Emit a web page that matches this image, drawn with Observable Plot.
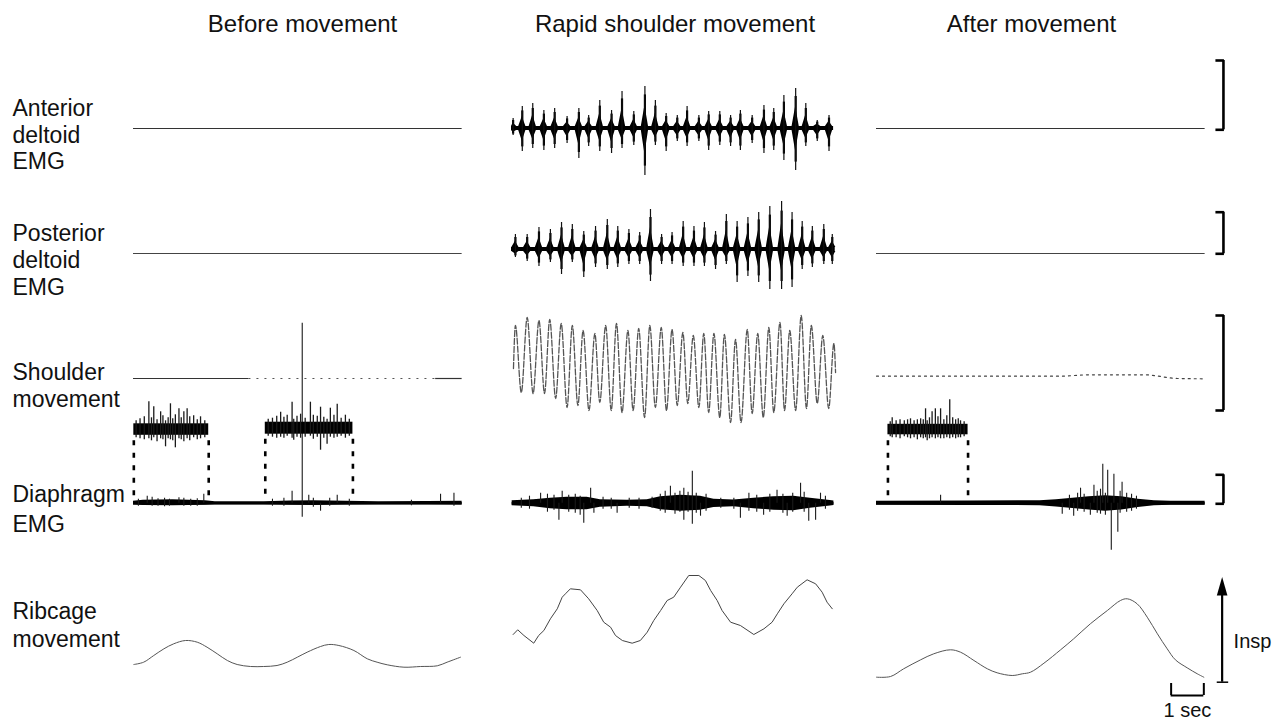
<!DOCTYPE html>
<html><head><meta charset="utf-8">
<script src="https://cdn.jsdelivr.net/npm/d3@7"></script>
<script src="https://cdn.jsdelivr.net/npm/@observablehq/plot@0.6"></script>
<style>html,body{margin:0;padding:0;background:#fff}svg{display:block}</style>
</head><body><div id="chart"></div>
<script>
// ---------------- DATA (time in s within each panel; amplitudes in trace units) ----------------
const panelTitles = ["Before movement", "Rapid shoulder movement", "After movement"];
const labelLines = ["Anterior","deltoid","EMG","Posterior","deltoid","EMG","Shoulder","movement","Diaphragm","EMG","Ribcage","movement"];

// Rapid movement – anterior deltoid EMG bursts
const antT  = [0.05,0.33,0.65,0.99,1.32,1.70,2.06,2.36,2.70,3.06,3.38,3.74,4.08,4.40,4.73,5.07,5.37,5.73,6.03,6.37,6.70,7.00,7.36,7.72,8.02,8.33,8.69,9.00,9.35,9.71];
const antUp = [1.0,2.2,2.5,1.8,2.0,1.2,2.0,1.3,2.8,1.8,3.7,1.7,4.2,2.8,1.5,1.3,2.2,1.3,1.7,1.7,1.3,1.8,1.3,2.3,2.0,3.3,4.0,2.5,0.8,1.3];
const antDn = [0.7,2.3,2.0,2.2,2.0,1.5,3.0,1.8,2.3,2.5,2.0,1.7,4.7,1.7,2.3,1.3,1.8,1.3,2.2,1.7,1.8,2.2,1.5,2.5,2.2,3.2,4.2,1.8,1.3,2.3];

// Rapid movement – posterior deltoid EMG bursts
const postT  = [0.12,0.48,0.84,1.19,1.53,1.86,2.21,2.57,2.93,3.25,3.59,3.92,4.25,4.59,4.91,5.25,5.58,5.90,6.24,6.57,6.90,7.23,7.56,7.90,8.26,8.58,8.89,9.20,9.55,9.81];
const postUp = [1.5,1.5,2.2,2.0,2.7,2.5,1.8,2.3,3.0,2.3,2.0,1.7,4.0,1.5,1.7,2.8,2.3,2.7,1.8,3.5,2.8,3.2,3.7,4.3,4.8,3.7,2.8,2.3,2.5,1.5];
const postDn = [0.8,1.2,1.7,1.3,2.5,1.3,2.8,1.8,2.0,1.8,1.5,1.5,3.2,1.5,1.5,1.7,1.7,1.7,2.0,1.5,3.3,2.7,3.3,4.0,4.0,3.8,2.0,1.8,1.5,1.5];

// Rapid movement – shoulder position (peaks and troughs)
const shT = [0.06,0.12,0.30,0.48,0.66,0.84,1.01,1.17,1.35,1.52,1.70,1.86,2.03,2.19,2.37,2.55,2.70,2.88,3.05,3.21,3.38,3.56,3.72,3.89,4.07,4.23,4.40,4.58,4.74,4.91,5.07,5.24,5.39,5.56,5.73,5.88,6.03,6.19,6.37,6.51,6.70,6.85,7.02,7.21,7.36,7.53,7.70,7.87,8.02,8.21,8.35,8.51,8.69,8.86,9.02,9.17,9.35,9.52,9.70,9.86,9.91];
const shV = [1.0,5.3,-1.4,6.1,-1.5,5.8,-1.5,5.9,-2.0,5.5,-2.9,5.3,-2.7,4.8,-3.2,4.5,-2.4,5.3,-3.2,5.5,-3.4,4.8,-3.2,5.0,-3.9,5.3,-2.9,5.1,-3.2,4.9,-2.7,4.6,-2.5,4.3,-2.9,4.5,-3.4,4.5,-3.9,4.4,-4.4,3.9,-4.4,4.9,-3.5,4.5,-3.9,5.1,-3.4,5.6,-3.2,4.8,-3.2,6.3,-3.0,5.3,-2.5,4.3,-3.0,3.5,0.6];

// After movement – shoulder position
const shAftT = [0, 5.6, 6.5, 8.2, 9.2, 10.05];
const shAftV = [0.23, 0.23, 0.37, 0.37, 0.0, -0.03];
// Before movement – shoulder, solid stretches (rest dotted)
const shBefSolidFrom = [0, 9.24];
const shBefSolidTo   = [3.53, 10.05];

// Diaphragm EMG envelopes and spikes
const diaBefT  = [0,0.3,1.2,2.2,2.5,4.0,4.8,5.5,6.5,7.5,9.0,10.05];
const diaBefUp = [0.2,0.3,0.35,0.25,0.15,0.15,0.22,0.25,0.2,0.15,0.18,0.2];
const diaBefDn = [0.18,0.22,0.25,0.2,0.15,0.15,0.2,0.22,0.18,0.15,0.16,0.18];
const diaBefSpT  = [0.15,0.42,0.57,0.75,0.95,1.10,1.39,1.54,1.75,1.95,2.15,4.25,4.60,4.85,5.16,5.36,5.50,5.72,6.00,6.23,6.60,8.50,9.39,9.80];
const diaBefSpUp = [0.4,0.7,0.6,0.45,0.5,0.4,0.55,0.5,0.4,0.45,0.9,0.4,0.5,1.2,18.0,0.8,0.5,0,0.5,0.8,0.4,0.3,0.9,1.0];
const diaBefSpDn = [0.3,0,0.3,0.3,0.35,0.3,0,0.3,0.3,0.3,0,0.3,0.3,0,1.4,0,0.4,0.8,0.3,0,0.3,0.25,0,0.3];

const diaRapT  = [0.02,0.68,1.19,1.70,2.31,2.72,3.54,4.15,4.56,5.17,5.78,6.19,6.80,7.41,8.02,8.63,9.14,9.75,9.86];
const diaRapUp = [0.25,0.35,0.5,0.6,0.6,0.35,0.3,0.35,0.65,0.8,0.7,0.4,0.33,0.5,0.65,0.7,0.5,0.28,0.22];
const diaRapDn = [0.25,0.35,0.55,0.65,0.65,0.4,0.3,0.35,0.65,0.8,0.7,0.42,0.35,0.55,0.7,0.75,0.5,0.28,0.22];
const diaRapSpT  = [0.30,0.55,0.89,1.10,1.30,1.45,1.55,1.75,1.95,2.10,2.21,2.42,2.52,2.80,3.05,3.23,3.60,3.90,4.30,4.55,4.70,4.86,5.00,5.15,5.27,5.40,5.53,5.65,5.78,5.95,6.40,6.80,7.00,7.26,7.50,7.71,7.90,8.12,8.30,8.43,8.60,8.84,8.95,9.09,9.30,9.45,9.60];
const diaRapSpUp = [0.5,0.7,1.0,0.9,0.8,0,1.2,0.8,0.9,0.7,0,1.5,0,0.6,0.5,0,0.5,0.5,0.6,0.9,1.2,1.7,1.0,1.2,1.5,1.1,3.2,1.0,0,0.9,0.5,0.5,0,1.0,0.8,0,0.9,1.3,0.9,0,1.0,2.0,1.1,0,0,1.0,0.7];
const diaRapSpDn = [0.5,0.6,0,0.9,0.7,1.7,0,0.9,1.0,1.2,2.0,0,1.0,0.6,0.6,1.0,0.5,0.6,0.5,0.8,1.0,0,1.1,0.9,1.7,0.9,2.1,1.0,1.3,0.8,0.5,0.6,1.5,0.8,0.9,1.2,0.9,0,1.0,1.3,0.9,0,0.9,1.8,1.7,0,0.6];

const diaAftT  = [0,2.8,5.0,5.5,6.0,6.5,7.0,7.5,8.0,8.5,9.0,10.05];
const diaAftUp = [0.2,0.22,0.25,0.35,0.5,0.65,0.75,0.65,0.4,0.25,0.2,0.2];
const diaAftDn = [0.2,0.22,0.25,0.38,0.52,0.68,0.8,0.68,0.42,0.25,0.2,0.2];
const diaAftSpT  = [1.96,5.68,5.90,6.03,6.15,6.24,6.35,6.54,6.65,6.75,6.85,6.92,7.00,7.07,7.18,7.26,7.38,7.45,7.51,7.65,7.80,7.95];
const diaAftSpUp = [0.8,0,0.8,0,1.0,1.5,0.9,0,1.8,1.2,1.4,3.9,1.0,3.3,0,2.9,0,1.2,2.1,1.0,0.9,0.7];
const diaAftSpDn = [0,1.1,0.7,1.3,0.8,0,0.9,1.2,0,1.0,1.1,0,1.2,0,4.7,0,2.9,1.0,0,0.9,0.8,0.6];

// Expanded (high-gain) diaphragm inserts
const insetPanel = [0, 0, 2];
const insetStart = [0.01, 4.03, 0.35];
const insetEnd   = [2.30, 6.71, 2.80];
const insetUp    = [0.6, 0.6, 0.55];
const insetDn    = [0.55, 0.6, 0.5];
const inset1SpT  = [0.08,0.2,0.33,0.47,0.55,0.62,0.72,0.83,0.90,0.98,1.06,1.13,1.20,1.28,1.39,1.46,1.54,1.64,1.72,1.84,1.95,2.05,2.18];
const inset1SpUp = [0.9,1.1,1.3,2.8,1.2,2.3,1.0,1.8,1.4,0.9,1.2,2.6,1.1,1.5,2.1,1.2,1.8,2.1,1.3,1.4,1.0,1.3,0.9];
const inset1SpDn = [0.8,0.9,1.0,0.9,1.1,0.8,1.2,0.9,1.0,1.7,0.9,1.0,1.1,1.8,0.9,1.0,1.2,0.9,1.1,0.8,1.0,0.9,0.8];
const inset2SpT  = [4.12,4.25,4.38,4.50,4.60,4.70,4.85,4.90,5.00,5.11,5.25,5.41,5.50,5.62,5.72,5.82,5.92,6.02,6.13,6.23,6.35,6.48,6.60];
const inset2SpUp = [0.9,1.0,1.2,1.6,1.1,1.3,2.6,0.9,1.2,1.4,1.0,2.6,1.3,1.2,2.1,1.1,0.9,2.0,1.3,2.4,1.0,1.3,0.9];
const inset2SpDn = [0.8,0.9,1.0,0.9,1.0,0.8,1.0,1.2,0.9,1.0,0.9,0.8,1.1,0.9,2.2,1.0,1.6,0.9,1.0,0.9,0.8,1.0,0.8];
const inset3SpT  = [0.42,0.48,0.60,0.72,0.85,0.95,1.04,1.15,1.25,1.35,1.43,1.50,1.55,1.62,1.70,1.80,1.88,1.96,2.06,2.15,2.24,2.33,2.42,2.50,2.57,2.68];
const inset3SpUp = [0.8,1.2,0.9,1.0,0.9,1.0,1.1,0.9,1.0,1.1,1.0,2.1,0.9,1.2,1.8,2.1,1.3,2.1,1.0,1.4,3.0,1.2,1.0,1.1,0.9,0.8];
const inset3SpDn = [0.7,0.8,0.8,0.9,0.7,0.8,0.9,0.8,1.0,0.8,0.9,0.8,1.1,0.9,0.8,0.9,0.8,0.9,0.9,0.8,0.9,0.8,0.9,0.8,0.8,0.7];

// Ribcage movement
const ribBefT = [0.01,0.31,0.62,0.93,1.23,1.59,1.95,2.25,2.56,2.87,3.17,3.58,3.98,4.39,4.70,5.01,5.31,5.72,5.97,6.28,6.74,7.15,7.45,7.76,8.27,8.78,9.29,9.59,10.0];
const ribBefV = [2.6,2.83,3.5,4.17,4.67,5.0,4.83,4.33,3.67,3.0,2.6,2.4,2.4,2.5,2.83,3.33,3.83,4.4,4.6,4.5,4.0,3.17,2.83,2.57,2.33,2.4,2.47,2.83,3.33];
const ribRapT = [0.05,0.19,0.38,0.68,0.83,0.99,1.19,1.40,1.55,1.65,1.80,2.11,2.36,2.62,2.82,3.03,3.18,3.39,3.69,3.94,4.15,4.35,4.56,4.76,4.96,5.17,5.42,5.73,5.93,6.09,6.29,6.44,6.70,7.00,7.41,7.72,7.97,8.13,8.33,8.58,8.74,9.04,9.30,9.50,9.65,9.81];
const ribRapV = [5.6,6.07,5.5,4.73,5.5,6.0,7.17,8.17,9.33,9.67,10.17,10.07,9.17,8.0,6.83,6.33,5.5,5.0,4.73,5.0,5.83,7.0,8.0,9.0,9.33,10.33,11.5,11.5,11.0,10.0,9.0,8.0,6.83,6.5,5.6,6.17,6.83,7.67,8.67,9.67,10.33,11.07,10.67,9.83,8.83,8.17];
const ribAftT = [0.0,0.43,0.83,1.35,1.75,2.26,2.57,2.98,3.39,3.69,4.15,4.46,4.71,5.12,5.63,6.03,6.54,7.06,7.46,7.67,7.97,8.28,8.59,8.89,9.14,9.50,9.81,10.01];
const ribAftV = [1.33,1.4,2.17,3.07,3.67,4.07,3.83,3.0,2.17,1.77,1.5,1.67,1.83,2.73,4.07,5.17,6.67,8.0,9.0,9.17,8.67,7.33,5.67,4.17,3.07,2.27,1.67,1.33];

// Calibration bars (absolute trace units): anterior, posterior, shoulder, diaphragm
const calTop    = [66.5, 51.33, 41.0, 25.07];
const calBottom = [59.57, 47.17, 31.5, 22.17];
const timeBar = [9.01, 10.01];           // 1 s, After panel
const timeBarLabel = "1 sec";
const inspLabel = "Insp";

// ---------------- LAYOUT ----------------
const W = 1286, H = 725, PXS = 32.7, X0 = 133;
const offs = [0, (511 - X0) / PXS, (876 - X0) / PXS];
const X = (p, t) => offs[p] + t;
const base = {ant: 59.7, post: [47.2, 47.6, 47.2], sh: 34.7, dia: 22.23, inset: [29.57, 29.73, 29.57], rib: 3.5};
const titleT = [5.17, 5.0, 4.74];
const titleY = 69.33;
const labelX = -3.70;
const labelY = [61.0, 58.3, 55.65, 48.5, 45.8, 43.1, 34.57, 31.9, 22.33, 19.33, 10.67, 7.9];
const BAND = 0.2, HALF = 0.11, CORE = 0.55;

const rows = (T, p, b, A, B) => T.map((t, i) => ({x: X(p, t), b, up: A ? A[i] : 0, dn: B ? B[i] : 0}));
const pts = (T, V, p, b) => T.map((t, i) => ({x: X(p, t), y: b + V[i]}));

// spindle outline of each EMG burst, joined by the baseline band
function spindle(T, Up, Dn, p, b, tEnd) {
  const out = [{x: X(p, 0), lo: b - BAND, hi: b + BAND}];
  T.forEach((t, i) => {
    out.push({x: X(p, Math.max(0, t - HALF)), lo: b - BAND, hi: b + BAND});
    out.push({x: X(p, t), lo: b - Dn[i] * CORE, hi: b + Up[i] * CORE});
    out.push({x: X(p, t + HALF), lo: b - BAND, hi: b + BAND});
  });
  out.push({x: X(p, tEnd), lo: b - BAND, hi: b + BAND});
  return out;
}
const burstMarks = (T, Up, Dn, p, b, tEnd) => {
  const R = rows(T, p, b, Up, Dn);
  return [
    Plot.areaY(spindle(T, Up, Dn, p, b, tEnd), {x: "x", y1: "lo", y2: "hi", fill: "#000", curve: "linear"}),
    Plot.ruleX(R, {x: "x", y1: d => d.b - d.dn * 0.8, y2: d => d.b + d.up * 0.8, stroke: "#000", strokeWidth: 2.2}),
    Plot.ruleX(R, {x: "x", y1: d => d.b - d.dn, y2: d => d.b + d.up, stroke: "#111", strokeWidth: 1.2})
  ];
};
const bandMarks = (R) => [
  Plot.areaY(R, {x: "x", y1: d => d.b - d.dn, y2: d => d.b + d.up, fill: "#000", curve: "linear"}),
  Plot.ruleY([0], {y: () => R[0].b, x1: () => R[0].x, x2: () => R[R.length - 1].x, stroke: "#000", strokeWidth: 2.5})
];
const spikeMarks = (R, w = 1.1) => [
  Plot.ruleX(R, {x: "x", y1: d => d.b - d.dn, y2: d => d.b + d.up, stroke: "#1a1a1a", strokeWidth: w})
];

const insetRows = insetStart.map((s, i) => ({p: insetPanel[i], x1: X(insetPanel[i], s), x2: X(insetPanel[i], insetEnd[i]), b: base.inset[i], up: insetUp[i], dn: insetDn[i]}));
const connectors = insetRows.flatMap(r => [{x: r.x1, b: r.b}, {x: r.x2, b: r.b}]);
const bracketX = X(2, 10.61), bracketTickX = X(2, 10.38);
const arrowX = X(2, 10.57);

const marks = [
  // titles and row labels
  Plot.text(panelTitles, {x: (d, i) => X(i, titleT[i]), y: () => titleY, text: d => d, fontSize: 24, textAnchor: "middle", lineAnchor: "bottom", fill: "#111"}),
  Plot.text(labelLines, {x: () => labelX, y: (d, i) => labelY[i], text: d => d, fontSize: 23, textAnchor: "start", lineAnchor: "bottom", fill: "#111"}),

  // deltoid flat traces before/after
  Plot.ruleY([0, 2], {y: () => base.ant, x1: p => X(p, 0), x2: p => X(p, 10.05), stroke: "#333", strokeWidth: 1.2}),
  Plot.ruleY([0, 2], {y: p => base.post[p], x1: p => X(p, 0), x2: p => X(p, 10.05), stroke: "#444", strokeWidth: 1.1}),
  // rapid deltoid EMG
  ...burstMarks(antT, antUp, antDn, 1, base.ant, 9.85),
  ...burstMarks(postT, postUp, postDn, 1, base.post[1], 9.9),

  // shoulder movement
  Plot.ruleY(shBefSolidFrom, {y: () => base.sh, x1: (d) => X(0, d), x2: (d, i) => X(0, shBefSolidTo[i]), stroke: "#333", strokeWidth: 1.2}),
  Plot.ruleY([0], {y: () => base.sh, x1: () => X(0, shBefSolidTo[0]), x2: () => X(0, shBefSolidFrom[1]), stroke: "#555", strokeWidth: 1.1, strokeDasharray: "2,6"}),
  Plot.line(pts(shT, shV, 1, base.sh), {x: "x", y: "y", stroke: "#555", strokeWidth: 1.3, strokeDasharray: "6,2", curve: "monotone-x"}),
  Plot.line(pts(shAftT, shAftV, 2, base.sh), {x: "x", y: "y", stroke: "#444", strokeWidth: 1.2, strokeDasharray: "2,4", curve: "monotone-x"}),

  // diaphragm EMG
  ...bandMarks(rows(diaBefT, 0, base.dia, diaBefUp, diaBefDn)),
  ...spikeMarks(rows(diaBefSpT, 0, base.dia, diaBefSpUp, diaBefSpDn)),
  ...bandMarks(rows(diaRapT, 1, base.dia, diaRapUp, diaRapDn)),
  ...spikeMarks(rows(diaRapSpT, 1, base.dia, diaRapSpUp, diaRapSpDn)),
  ...bandMarks(rows(diaAftT, 2, base.dia, diaAftUp, diaAftDn)),
  ...spikeMarks(rows(diaAftSpT, 2, base.dia, diaAftSpUp, diaAftSpDn)),

  // expanded inserts
  Plot.rect(insetRows, {x1: "x1", x2: "x2", y1: d => d.b - d.dn, y2: d => d.b + d.up, fill: "#000"}),
  ...spikeMarks(rows(inset1SpT, 0, base.inset[0], inset1SpUp, inset1SpDn), 1.3),
  ...spikeMarks(rows(inset2SpT, 0, base.inset[1], inset2SpUp, inset2SpDn), 1.3),
  ...spikeMarks(rows(inset3SpT, 2, base.inset[2], inset3SpUp, inset3SpDn), 1.3),
  Plot.ruleX(connectors, {x: "x", y1: d => d.b - 1.1, y2: () => base.dia + 0.25, stroke: "#000", strokeWidth: 2.6, strokeDasharray: "5,7.5"}),

  // ribcage
  Plot.line(pts(ribBefT, ribBefV, 0, base.rib), {x: "x", y: "y", stroke: "#555", strokeWidth: 1, curve: "catmull-rom"}),
  Plot.line(pts(ribRapT, ribRapV, 1, base.rib), {x: "x", y: "y", stroke: "#444", strokeWidth: 1, curve: "linear"}),
  Plot.line(pts(ribAftT, ribAftV, 2, base.rib), {x: "x", y: "y", stroke: "#555", strokeWidth: 1, curve: "catmull-rom"}),

  // calibration bars
  Plot.ruleX(calTop, {x: () => bracketX, y1: d => d, y2: (d, i) => calBottom[i], stroke: "#000", strokeWidth: 2.6}),
  Plot.ruleY([...calTop, ...calBottom], {y: d => d, x1: () => bracketTickX, x2: () => bracketX + 0.03, stroke: "#000", strokeWidth: 2.6}),
  // Insp arrow
  Plot.ruleX([0], {x: () => arrowX, y1: () => 4.33, y2: () => 13.2, stroke: "#000", strokeWidth: 2.2}),
  Plot.vector([0], {x: () => arrowX, y: () => 13.0, length: 18.5, rotate: 0, shape: "spike", r: 5.3, anchor: "start", fill: "#000", stroke: "none"}),
  Plot.ruleY([0], {y: () => 4.33, x1: () => X(2, 10.42), x2: () => X(2, 10.77), stroke: "#000", strokeWidth: 1.5}),
  Plot.text([inspLabel], {x: () => X(2, 10.92), y: () => 7.8, text: d => d, fontSize: 20, textAnchor: "start", lineAnchor: "bottom", fill: "#111"}),
  // 1 sec bar
  Plot.ruleY([0], {y: () => 3.0, x1: () => X(2, timeBar[0]), x2: () => X(2, timeBar[1]), stroke: "#000", strokeWidth: 2}),
  Plot.ruleX(timeBar, {x: d => X(2, d), y1: () => 3.0, y2: () => 4.2, stroke: "#000", strokeWidth: 2}),
  Plot.text([timeBarLabel], {x: () => X(2, (timeBar[0] + timeBar[1]) / 2), y: () => 0.9, text: d => d, fontSize: 20, textAnchor: "middle", lineAnchor: "bottom", fill: "#111"})
];

const chart = Plot.plot({
  width: W, height: H, margin: 0,
  x: {domain: [-X0 / PXS, (W - X0) / PXS], range: [0, W], axis: null},
  y: {domain: [0, H / 10], range: [H, 0], axis: null},
  style: {fontFamily: "'Liberation Sans', Arial, Helvetica, sans-serif", background: "#fff", color: "#000", overflow: "visible"},
  marks
});
document.getElementById("chart").append(chart);
</script>
</body></html>
